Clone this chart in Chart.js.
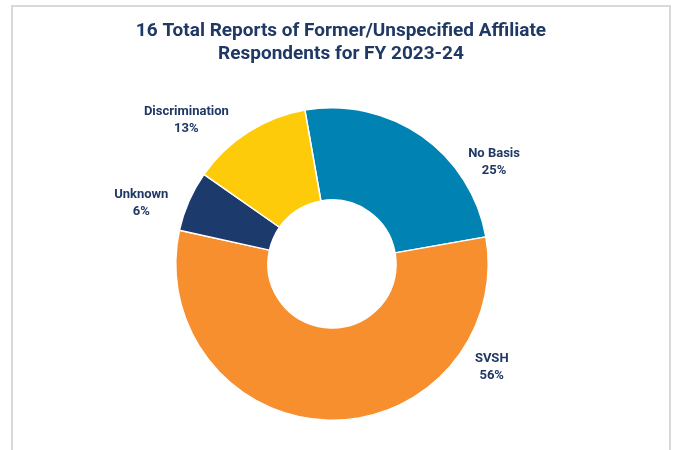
<!DOCTYPE html>
<html>
<head>
<meta charset="utf-8">
<title>Former/Unspecified Affiliate Respondents FY 2023-24</title>
<script src="https://cdn.jsdelivr.net/npm/chart.js@4/dist/chart.umd.min.js"></script>
<style>
  html, body { margin: 0; padding: 0; background: #ffffff; }
  #wrap { position: relative; width: 675px; height: 450px; }
</style>
</head>
<body>
<div id="wrap"><canvas id="chart" width="675" height="450"></canvas></div>
<script>
// Report counts by basis, FY 2023-24
const categories = ['No Basis', 'SVSH', 'Unknown', 'Discrimination'];
const reportCounts = [4, 9, 1, 2];
const titleLines = ['16 Total Reports of Former/Unspecified Affiliate', 'Respondents for FY 2023-24'];

const sliceColors = ['#0082B2', '#F78F2F', '#1C3B6C', '#FECB0A'];
const textColor = '#1F3864';
const fontFamily = 'Roboto, "Noto Sans", sans-serif';

// Light grey panel frame and the two-line heading
const framePlugin = {
  id: 'panelFrame',
  beforeDraw(chart, args, opts) {
    const ctx = chart.ctx;
    ctx.save();
    ctx.fillStyle = '#ffffff';
    ctx.fillRect(0, 0, chart.width, chart.height);
    ctx.strokeStyle = opts.color;
    ctx.lineWidth = 2;
    ctx.beginPath();
    ctx.moveTo(opts.left, chart.height + 5);
    ctx.lineTo(opts.left, opts.top);
    ctx.lineTo(opts.right, opts.top);
    ctx.lineTo(opts.right, chart.height + 5);
    ctx.stroke();
    ctx.restore();
  },
  afterDraw(chart, args, opts) {
    const ctx = chart.ctx;
    ctx.save();
    ctx.fillStyle = textColor;
    ctx.font = 'bold ' + opts.titleSize + 'px ' + fontFamily;
    ctx.textAlign = 'center';
    ctx.textBaseline = 'middle';
    const cx = (opts.left + opts.right) / 2;
    opts.lines.forEach((line, i) => {
      ctx.fillText(line, cx, opts.titleY + i * opts.titleGap);
    });
    ctx.restore();
  }
};

// Category name and share, placed outside each slice
const sliceLabelPlugin = {
  id: 'sliceLabels',
  afterDatasetsDraw(chart, args, opts) {
    const meta = chart.getDatasetMeta(0);
    const values = chart.data.datasets[0].data;
    const total = values.reduce((a, b) => a + b, 0);
    const ctx = chart.ctx;
    ctx.save();
    ctx.fillStyle = textColor;
    ctx.font = 'bold ' + opts.size + 'px ' + fontFamily;
    ctx.textAlign = 'center';
    ctx.textBaseline = 'middle';
    meta.data.forEach((arc, i) => {
      const p = arc.getProps(['x', 'y', 'outerRadius'], true);
      const [angleDeg, factor] = opts.anchors[i];
      const a = angleDeg * Math.PI / 180;
      const r = p.outerRadius * factor;
      const x = p.x + Math.cos(a) * r;
      const y = p.y + Math.sin(a) * r + opts.nudge;
      const pct = Math.round(values[i] / total * 100) + '%';
      ctx.fillText(chart.data.labels[i], x, y - opts.gap / 2);
      ctx.fillText(pct, x, y + opts.gap / 2);
    });
    ctx.restore();
  }
};

new Chart(document.getElementById('chart'), {
  type: 'doughnut',
  data: {
    labels: categories,
    datasets: [{
      data: reportCounts,
      backgroundColor: sliceColors,
      borderColor: '#ffffff',
      borderWidth: 1.5,
      hoverOffset: 0
    }]
  },
  options: {
    responsive: false,
    animation: false,
    rotation: -10,
    cutout: '41%',
    layout: { padding: { left: 175, right: 186, top: 107, bottom: 29 } },
    plugins: {
      legend: { display: false },
      title: { display: false },
      tooltip: { enabled: false },
      panelFrame: {
        color: '#d9d9d9', left: 12, right: 670, top: 6,
        lines: titleLines, titleSize: 19, titleY: 31.5, titleGap: 23
      },
      sliceLabels: {
        size: 13, gap: 17, nudge: 1.5,
        anchors: [[-32.6, 1.231], [32.5, 1.212], [198.2, 1.285], [225.0, 1.318]]
      }
    }
  },
  plugins: [framePlugin, sliceLabelPlugin]
});
</script>
</body>
</html>
